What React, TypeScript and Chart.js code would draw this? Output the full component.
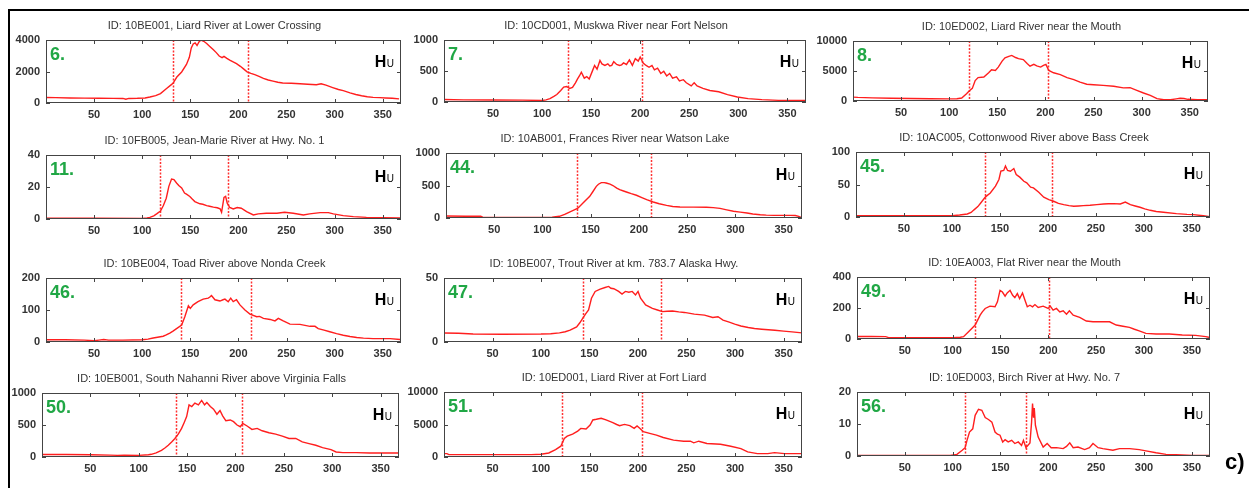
import React, { useEffect, useRef } from 'react';
import { Chart, registerables } from 'chart.js';

Chart.register(...registerables);

const FONT = '"Liberation Sans", Arial, Helvetica, sans-serif';
Chart.defaults.font.family = FONT;

// ---------------- data ----------------
const xTickValues = [50, 100, 150, 200, 250, 300, 350];
const dayMin = 0;
const dayMax = 369;

const panelNumbers = ['6.', '7.', '8.', '11.', '44.', '45.', '46.', '47.', '49.', '50.', '51.', '56.'];

const panelTitles = [
  'ID: 10BE001, Liard River at Lower Crossing',
  'ID: 10CD001, Muskwa River near Fort Nelson',
  'ID: 10ED002, Liard River near the Mouth',
  'ID: 10FB005, Jean-Marie River at Hwy. No. 1',
  'ID: 10AB001, Frances River near Watson Lake',
  'ID: 10AC005, Cottonwood River above Bass Creek',
  'ID: 10BE004, Toad River above Nonda Creek',
  'ID: 10BE007, Trout River at km. 783.7 Alaska Hwy.',
  'ID: 10EA003, Flat River near the Mouth',
  'ID: 10EB001, South Nahanni River above Virginia Falls',
  'ID: 10ED001, Liard River at Fort Liard',
  'ID: 10ED003, Birch River at Hwy. No. 7',
];

const yTickSets = [
  [0, 2000, 4000],
  [0, 500, 1000],
  [0, 5000, 10000],
  [0, 20, 40],
  [0, 500, 1000],
  [0, 50, 100],
  [0, 100, 200],
  [0, 50],
  [0, 200, 400],
  [0, 500, 1000],
  [0, 5000, 10000],
  [0, 10, 20],
];

const markerDays = [
  [132, 210],
  [126, 202],
  [121, 203],
  [119, 189],
  [136, 213],
  [134, 204],
  [140, 213],
  [143, 224],
  [123, 201],
  [138, 207],
  [122, 204],
  [113, 177],
];

// [day, discharge] pairs
const q6 = [[0,350],[10,340],[25,320],[40,310],[55,300],[70,295],[80,290],[83,240],[86,290],[95,300],[103,320],[108,380],[114,470],[119,600],[125,900],[130,1150],[132,1250],[136,1650],[141,1970],[146,2450],[149,2900],[151,3500],[153,3750],[155,3820],[157,3650],[159,3880],[161,4000],[164,3920],[167,3780],[170,3600],[174,3380],[177,3200],[180,2980],[183,2880],[185,2960],[188,2830],[191,2720],[195,2600],[198,2500],[202,2330],[205,2180],[209,1980],[213,1880],[217,1800],[222,1680],[226,1560],[231,1460],[236,1390],[241,1320],[246,1270],[255,1250],[264,1220],[272,1190],[281,1160],[286,1220],[291,1130],[298,980],[304,860],[309,790],[316,640],[322,540],[328,460],[334,400],[340,360],[347,340],[353,320],[360,300],[367,260]];

const q7 = [[0,40],[20,35],[50,32],[80,30],[100,25],[104,35],[108,55],[112,90],[115,120],[119,185],[122,240],[125,250],[128,220],[131,235],[134,310],[136,370],[138,420],[140,480],[143,385],[145.5,410],[148,370],[151,490],[153.5,590],[156,530],[159,670],[161,615],[164,590],[167,615],[169,580],[171,590],[173,650],[176,605],[179,590],[181,600],[183,630],[186,605],[189,680],[192,590],[195,700],[198,660],[200,725],[203,630],[206,590],[209,560],[212,590],[214.5,520],[217.7,545],[221,460],[224,495],[227,420],[230,460],[233,385],[237,405],[240,340],[244,360],[247,310],[252,260],[255,310],[258,260],[264,220],[271,185],[280,165],[289,120],[299,80],[310,55],[324,38],[341,27],[358,27],[369,27]];

const q8 = [[0,650],[5,600],[20,520],[40,460],[60,420],[80,380],[100,360],[108,380],[113,500],[118,1200],[121,1700],[124,2100],[127,3400],[130,3900],[136,4000],[141,4700],[144,5200],[148,5100],[151,5650],[155,6650],[158,7200],[162,7450],[165,7600],[169,7250],[172,7050],[177,6900],[181,6250],[184,5800],[188,6100],[191,5850],[195,5650],[198,5950],[200.5,6100],[203.5,5100],[208.5,4700],[215.5,4400],[222.5,3900],[229.5,3550],[236,3150],[243,2800],[250,2720],[260,2600],[271,2450],[281,2180],[288,2220],[295,1780],[302,1330],[309,950],[316,400],[323,220],[330,220],[336,350],[340,450],[344,420],[348,280],[358,220],[369,220]];

const q11 = [[0,0.5],[50,0.5],[100,0.4],[105,0.6],[108,1],[112,2],[115,3.2],[119,5],[122,8.4],[125,13],[127.7,20.4],[130.5,25],[133,24.6],[135.7,22.5],[138,21],[141,19.4],[144,16.2],[146,15.5],[149.5,14.1],[152,12.5],[154.7,10.9],[160,9.5],[163,9.2],[167,8.4],[170,8],[174,7.4],[178,7],[181,6.3],[182.5,4.2],[185,13.5],[186.7,14.1],[188.4,9.9],[191,7.2],[194.6,6.3],[198.8,7.2],[203,6.7],[208.5,4.6],[215.5,2.5],[220.6,3.2],[229,3.6],[240,3.6],[248,4.2],[257,3.6],[267.5,2.5],[274,3.2],[285,4],[293.5,4],[298.7,3.2],[309,2.1],[319.5,1.5],[333,1],[351,0.8],[368,0.6]];

const q44 = [[0,30],[20,28],[36,28],[38,12],[60,10],[80,10],[100,10],[110,12],[117.6,26],[123,55],[128,92],[133,125],[136.7,150],[142,230],[149,333],[152,400],[155.8,487],[158,520],[161,545],[164,545],[166,538],[170,520],[173,500],[177,460],[180,436],[184,415],[187,400],[192,375],[197.4,350],[203,315],[208,282],[214.8,246],[221,220],[228.6,195],[235,178],[242.5,170],[256.4,168],[270,165],[277,160],[284,148],[291,125],[298,103],[305,90],[312,77],[318,62],[325.8,51],[332,45],[339.6,41],[348,41],[357,41],[362,38],[365.6,26],[369,5]];

const q45 = [[0,2],[30,2],[60,2],[90,2],[100,2],[108,3],[116,4.6],[120,7],[123,11],[127,16],[130,21.6],[135,31],[140,37],[145.4,47.4],[149,57.7],[151,70.5],[154,71.6],[155.8,78.3],[158,71.6],[161,70.5],[164.5,74.6],[167,65.4],[170.7,61.3],[175,55],[178,52.5],[182,45.8],[185,44.8],[190.5,38],[195.7,30.4],[201,26.8],[206,24.2],[211,21],[216.5,19],[222,17.5],[227,16.5],[232,17],[237,17.5],[244,18],[251,19],[258,20],[263,20.3],[268.5,20.6],[275.5,20],[280.7,23],[286,19],[291,17],[296,15],[301,12.5],[306.7,10.3],[313,8.5],[320.5,7.2],[334,5.2],[345,4],[351.8,3.6],[362,2],[369,0.5]];

const q46 = [[0,7],[20,7],[40,6],[50,4],[55,6],[60,8],[65,6],[80,6],[100,7],[106,9],[111.4,12.6],[116,15],[121.8,18],[125,22],[128.7,28],[132,34],[135.7,42],[141,53],[144.3,79],[148,113],[150,105],[153,116],[158,126],[163.4,134],[168.6,137],[170,140],[172,145],[175.6,132],[180.8,128],[184,132],[186,134],[189.4,126],[192,137],[194.6,126],[198,132],[201.6,116],[206.8,100],[212,87],[219,79],[222,80],[226,74],[233,70.5],[238,66],[241.5,74],[246.6,66],[253.6,56],[264,55],[274.4,49],[279.6,49],[283,42],[289,37],[295,32],[302,26],[309,21],[316,17],[323,14],[330,12],[340,10.5],[357.7,10.5],[368,8]];

const q47 = [[0,7],[15,6.8],[30,6.3],[60,6],[100,6.2],[110,6.5],[119,7.1],[125,8],[130,9.2],[136.7,11.8],[140,15],[143.6,19.2],[146,22],[149,25],[152,34.2],[155.8,39.5],[161,41.3],[166,42.6],[169.7,43.4],[172,42],[175,41.6],[180,39.5],[183.5,37.4],[187,39.5],[190.5,38.9],[194,39.5],[197.4,36.8],[200,39.5],[202.6,34.2],[207.8,29],[214.8,26.3],[220,25],[225,23.7],[230,24],[235.5,24.2],[242,23.5],[247.7,23.1],[258,21.8],[268.5,21],[277,19.2],[282.4,19.7],[287.6,17.1],[294,15.5],[299.7,14],[306,12.5],[313.6,11.3],[320,10.5],[327.5,10],[341,9.2],[350,8.5],[358.7,7.9],[369,7.1]];

const q49 = [[0,16],[15,16],[30,15],[33,9],[60,9],[90,9],[100,9],[108,11],[111.4,15],[116.6,47],[120,68],[123.5,90],[126,120],[128.7,154],[131,175],[134,197],[139,212],[144.3,208],[146.8,240],[149.5,314],[152,303],[154.8,276],[157,297],[160,314],[162.7,282],[165,267],[167.6,293],[170,261],[173,297],[175.6,250],[178,208],[180.8,218],[183.5,208],[186,222],[189.4,203],[194.6,212],[199.8,197],[202,212],[205,186],[208.5,197],[212,175],[215.5,182],[219,160],[222,182],[226,154],[232.8,139],[239.7,116],[246.7,111],[257,111],[264,111],[271,90],[278,82],[284.8,75],[290,63],[295,53],[302,36],[312.6,32],[326.5,32],[340,26],[354,23.5],[364.6,15],[369,10]];

const q50 = [[0,40],[25,38],[50,35],[70,30],[78,25],[85,28],[100,25],[110,35],[113,42],[118,65],[123.5,105],[127,140],[130.5,184],[134,235],[137.4,290],[141,360],[144.3,447],[147,540],[149.5,631],[152,815],[154.8,789],[158,842],[161.7,815],[165,884],[168,815],[170.4,852],[174,789],[177.3,747],[180.8,668],[184,726],[186.7,642],[190,568],[194.6,579],[198,552],[201.6,500],[205,473],[207.5,526],[212,484],[217,431],[222.4,447],[227.6,410],[234.6,379],[241.5,358],[248.4,326],[255.3,290],[262.3,290],[269,237],[276,210],[283,184],[290,147],[298.7,116],[304,79],[311,68],[324.7,68],[338.6,63],[356,63],[369,63]];

const q51 = [[0,520],[3,520],[5,360],[30,360],[60,360],[90,360],[100,415],[108,620],[115,1140],[120.4,1660],[124,2850],[127,3210],[132.5,3520],[137.8,3990],[141,4400],[146.4,4300],[150.6,4920],[153.4,5700],[157,5800],[162,5960],[167,5700],[174,5280],[178,5000],[181,4820],[186,5020],[191.5,4820],[196,4400],[199,4770],[202,4400],[205.4,3890],[212,3630],[219,3370],[226,3000],[236.6,2590],[247,2430],[254,2430],[257.4,2180],[262.6,2430],[271,2070],[285,1970],[295.6,1660],[306,1300],[313,780],[323,520],[333.7,520],[340.7,670],[351,520],[369,520]];

const q56 = [[0,0.2],[50,0.2],[97.5,0.2],[104.5,0.5],[110,1.8],[113,2.6],[115,4.9],[117.6,7.5],[121,8.5],[123.5,12.7],[127,14.6],[130.5,14.3],[134,12],[137.4,11.4],[141,10.6],[144.3,7.5],[146.8,6.8],[149.5,6.5],[152.3,4.4],[154.8,5.1],[158,4.4],[161.7,4.9],[165,3.9],[168.6,4.4],[172,3.3],[174,4.9],[176.6,2.6],[180.8,4.1],[182.5,10.6],[183.5,16.4],[184.5,12],[185.3,15],[186.5,9.6],[189.4,5.9],[194.6,2.8],[198.8,3.9],[203,2.6],[208.5,2.6],[215.5,2.3],[219,3],[222.4,4.1],[226,2.6],[231,2.8],[238,2],[243,2.6],[246.7,3.9],[252,2.6],[257,2.3],[267.5,1.8],[274.4,2.3],[285,2.3],[295,2],[302,1.6],[312.6,1],[323,0.5],[333.4,0.4],[351,0.2],[369,0.2]];

const flows = [q6, q7, q8, q11, q44, q45, q46, q47, q49, q50, q51, q56];

// ---------------- layout (plot box: left, top, right, bottom) ----------------
const plotBoxes = [
  [46, 40, 401, 103],
  [444, 40, 806, 102],
  [853, 41, 1208, 101],
  [46, 155, 401, 219],
  [446, 153, 802, 218],
  [856, 152, 1210, 217],
  [46, 278, 401, 342],
  [444, 278, 802, 342],
  [857, 277, 1210, 339],
  [42, 393, 399, 457],
  [444, 392, 802, 457],
  [857, 392, 1210, 456],
];

const PAD_L = 45;
const PAD_T = 24;
const PAD_R = 6;
const PAD_B = 20;
const LINE_RED = 'rgb(255,30,30)';
const MARK_RED = 'rgb(255,50,50)';
const NUM_GREEN = '#20a745';
const AXIS_GREY = '#444';
const TICK_TEXT = '#333';

function Panel({ idx }: { idx: number }) {
  const ref = useRef<HTMLCanvasElement>(null);
  const [L, T, R, B] = plotBoxes[idx];
  const w = R - L + PAD_L + PAD_R;
  const h = B - T + PAD_T + PAD_B;

  useEffect(() => {
    const yTicks = yTickSets[idx];
    const yMax = yTicks[yTicks.length - 1];
    const overlay = {
      id: 'overlay' + idx,
      beforeDatasetsDraw(chart: any) {
        // dashed marker lines, positioned through the x scale
        const { ctx, scales } = chart;
        ctx.save();
        ctx.strokeStyle = MARK_RED;
        ctx.lineWidth = 1.5;
        ctx.setLineDash([2, 1.5]);
        markerDays[idx].forEach((d) => {
          const px = Math.round(scales.x.getPixelForValue(d)) + 0.5;
          ctx.beginPath();
          ctx.moveTo(px, scales.y.getPixelForValue(yMax));
          ctx.lineTo(px, scales.y.getPixelForValue(0));
          ctx.stroke();
        });
        ctx.restore();
      },
      afterDraw(chart: any) {
        const { ctx, chartArea: a, scales } = chart;
        ctx.save();
        ctx.strokeStyle = AXIS_GREY;
        ctx.lineWidth = 1;
        ctx.strokeRect(a.left + 0.5, a.top + 0.5, a.right - a.left - 1, a.bottom - a.top - 1);
        ctx.beginPath();
        xTickValues.forEach((v) => {
          const px = Math.round(scales.x.getPixelForValue(v)) + 0.5;
          ctx.moveTo(px, a.bottom);
          ctx.lineTo(px, a.bottom - 4);
          ctx.moveTo(px, a.top);
          ctx.lineTo(px, a.top + 4);
        });
        yTicks.forEach((v) => {
          const py = Math.round(scales.y.getPixelForValue(v)) + 0.5;
          ctx.moveTo(a.left, py);
          ctx.lineTo(a.left + 4, py);
          ctx.moveTo(a.right, py);
          ctx.lineTo(a.right - 4, py);
        });
        ctx.stroke();

        // title
        ctx.font = `11px ${FONT}`;
        ctx.fillStyle = '#333';
        ctx.textAlign = 'center';
        ctx.textBaseline = 'middle';
        ctx.fillText(panelTitles[idx], (a.left + a.right) / 2 - 9, a.top - 14.5);

        // panel number
        ctx.font = `bold 18px ${FONT}`;
        ctx.fillStyle = NUM_GREEN;
        ctx.textAlign = 'left';
        ctx.textBaseline = 'alphabetic';
        ctx.fillText(panelNumbers[idx], a.left + 4, a.top + 20);

        // H_U
        ctx.fillStyle = '#000';
        ctx.font = `10px ${FONT}`;
        const wU = ctx.measureText('U').width;
        ctx.fillText('U', a.right - 7 - wU, a.top + 26.5);
        ctx.font = `bold 16px ${FONT}`;
        const wH = ctx.measureText('H').width;
        ctx.fillText('H', a.right - 7 - wU - wH - 0.5, a.top + 26.5);
        ctx.restore();
      },
    };

    const chart = new Chart(ref.current as HTMLCanvasElement, {
      type: 'line',
      data: {
        datasets: [
          {
            data: flows[idx].map(([x, y]) => ({ x, y })),
            borderColor: LINE_RED,
            borderWidth: 1.4,
            pointRadius: 0,
            tension: 0,
            fill: false,
          },
        ],
      } as any,
      options: {
        animation: false,
        responsive: false,
        events: [],
        layout: { padding: { top: PAD_T, right: PAD_R, left: 0, bottom: 0 } },
        plugins: {
          legend: { display: false },
          tooltip: { enabled: false },
          title: { display: false },
        },
        scales: {
          x: {
            type: 'linear',
            min: dayMin,
            max: dayMax,
            afterBuildTicks: (s: any) => {
              s.ticks = xTickValues.map((v) => ({ value: v }));
            },
            afterFit: (s: any) => {
              s.height = PAD_B;
            },
            grid: { display: false, drawTicks: false },
            border: { display: false },
            ticks: {
              autoSkip: false,
              maxRotation: 0,
              minRotation: 0,
              padding: 5,
              color: TICK_TEXT,
              font: { family: FONT, size: 11, weight: 'bold' },
              callback: (v: any) => String(v),
            },
          },
          y: {
            type: 'linear',
            min: 0,
            max: yMax,
            afterBuildTicks: (s: any) => {
              s.ticks = yTicks.map((v) => ({ value: v }));
            },
            afterFit: (s: any) => {
              s.width = PAD_L;
            },
            grid: { display: false, drawTicks: false },
            border: { display: false },
            ticks: {
              autoSkip: false,
              padding: 6,
              color: TICK_TEXT,
              font: { family: FONT, size: 11, weight: 'bold' },
              callback: (v: any) => String(v),
            },
          },
        },
      } as any,
      plugins: [overlay],
    });
    return () => chart.destroy();
  }, [idx]);

  return (
    <canvas
      ref={ref}
      width={w}
      height={h}
      style={{ position: 'absolute', left: L - PAD_L, top: T - PAD_T, width: w, height: h }}
    />
  );
}

export default function App() {
  return (
    <div
      style={{
        position: 'fixed',
        left: 0,
        top: 0,
        width: 1249,
        height: 488,
        background: '#fff',
        overflow: 'hidden',
      }}
    >
      <div style={{ position: 'absolute', left: 8, top: 9, width: 1241, height: 2, background: '#000' }} />
      <div style={{ position: 'absolute', left: 8, top: 9, width: 2, height: 479, background: '#000' }} />
      {plotBoxes.map((_, i) => (
        <Panel key={i} idx={i} />
      ))}
      <div
        style={{
          position: 'absolute',
          left: 1225,
          top: 451,
          fontFamily: FONT,
          fontWeight: 'bold',
          fontSize: 22,
          lineHeight: '22px',
          color: '#000',
        }}
      >
        c)
      </div>
    </div>
  );
}
